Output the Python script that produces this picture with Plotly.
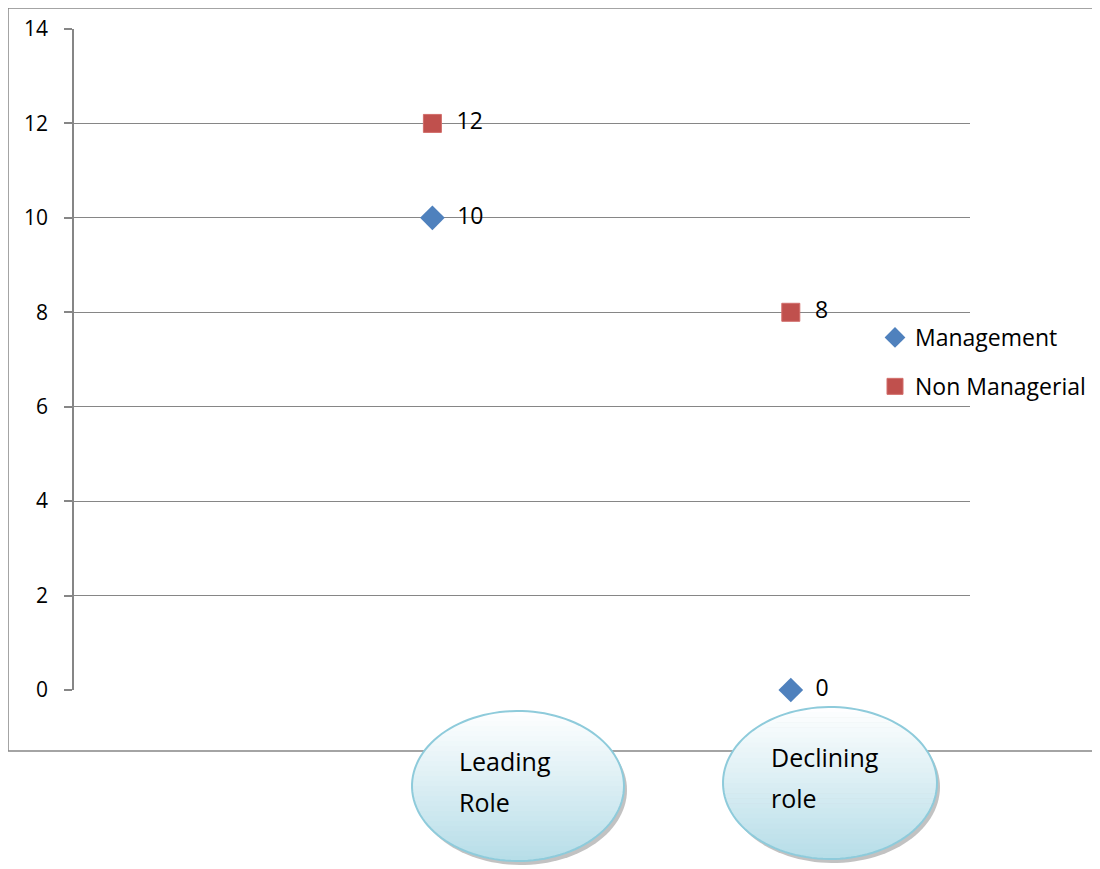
import numpy as np
import plotly.graph_objects as go

# ---- data ----
categories = ["Leading Role", "Declining role"]
x_pos = [1, 2]
management = [10, 0]
non_managerial = [12, 8]
y_ticks = [0, 2, 4, 6, 8, 10, 12, 14]

OFF = 8  # page body margin
W, H = 1100 - OFF, 869 - OFF
L, R, T, B = 74 - OFF, 130, 29 - OFF, 179
PW, PH = W - L - R, H - T - B

def px2paper(px, py):
    # px, py are page coordinates
    px -= OFF
    py -= OFF
    return (px - L) / PW, (H - B - py) / PH

FONT = "Open Sans"
GRID = "#868686"

fig = go.Figure()
fig.add_trace(go.Scatter(
    x=x_pos, y=management, mode="markers+text", name="Management",
    legendgroup="a",
    marker=dict(symbol="diamond", size=19, color="#4f81bd", line=dict(color="#4f81bd", width=0)),
    text=["  " + str(v) for v in management], textposition="middle right",
    textfont=dict(size=23, color="black", family=FONT), cliponaxis=False))
fig.add_trace(go.Scatter(
    x=x_pos, y=non_managerial, mode="markers+text", name="Non Managerial",
    legendgroup="b",
    marker=dict(symbol="square", size=18, color="#c0504d", line=dict(color="#d26d6a", width=1)),
    text=["  " + str(v) for v in non_managerial], textposition="middle right",
    textfont=dict(size=23, color="black", family=FONT), cliponaxis=False))

shapes = []
# outer chart border
x0, y0 = px2paper(8, 8)
x1, y1 = px2paper(1110, 751)
shapes.append(dict(type="rect", xref="paper", yref="paper", x0=x0, y0=y1, x1=x1, y1=y0,
                   line=dict(color="#868686", width=1.5), fillcolor="rgba(0,0,0,0)", layer="below"))

def ellipse_path(cx, cy, rx, ry, ya=None, yb=None, n=60):
    if ya is None:
        t = np.linspace(0, 2 * np.pi, n * 2)
        pts = [(cx + rx * np.cos(a), cy + ry * np.sin(a)) for a in t]
    else:
        ys = np.linspace(ya, yb, 8)
        right = [(cx + rx * np.sqrt(max(0, 1 - ((y - cy) / ry) ** 2)), y) for y in ys]
        left = [(cx - rx * np.sqrt(max(0, 1 - ((y - cy) / ry) ** 2)), y) for y in ys[::-1]]
        pts = right + left
    s = ""
    for i, (px, py) in enumerate(pts):
        ex, ey = px2paper(px, py)
        s += ("M" if i == 0 else "L") + f"{ex:.5f},{ey:.5f} "
    return s + "Z"

def lerp(c1, c2, f):
    return "rgb(%d,%d,%d)" % tuple(int(round(a + (b - a) * f)) for a, b in zip(c1, c2))

ellipses = [(518, 786, 106, 75), (830, 783, 107, 76)]
top_c, bot_c = (255, 255, 255), (182, 221, 232)
for (cx, cy, rx, ry) in ellipses:
    shapes.append(dict(type="path", xref="paper", yref="paper",
                       path=ellipse_path(cx + 3, cy + 4, rx, ry),
                       fillcolor="rgba(120,120,120,0.45)", line=dict(width=0), layer="above"))
    nb = 30
    edges = np.linspace(cy - ry, cy + ry, nb + 1)
    for i in range(nb):
        f = (i + 0.5) / nb
        shapes.append(dict(type="path", xref="paper", yref="paper",
                           path=ellipse_path(cx, cy, rx, ry, edges[i], edges[i + 1] + 0.6),
                           fillcolor=lerp(top_c, bot_c, f), line=dict(width=0), layer="above"))
    shapes.append(dict(type="path", xref="paper", yref="paper",
                       path=ellipse_path(cx, cy, rx, ry),
                       fillcolor="rgba(0,0,0,0)", line=dict(color="#8ecbdb", width=2), layer="above"))

annotations = []
label_lines = [("Leading", "Role", 457, 761, 802), ("Declining", "role", 769, 757, 798)]
for cat, (l1, l2, lx, ly1, ly2) in zip(categories, label_lines):
    for txt, ly in ((l1, ly1), (l2, ly2)):
        ax, ay = px2paper(lx, ly)
        annotations.append(dict(text=txt, xref="paper", yref="paper", x=ax, y=ay,
                                xanchor="left", yanchor="middle", showarrow=False,
                                font=dict(size=25, color="black", family=FONT)))

lx, ly = px2paper(875, 316)
fig.update_layout(
    width=W, height=H,
    margin=dict(l=L, r=R, t=T, b=B, pad=0, autoexpand=False),
    paper_bgcolor="white", plot_bgcolor="white",
    font=dict(family=FONT, size=21, color="black"),
    xaxis=dict(range=[0, 2.5], showgrid=False, zeroline=False, showticklabels=False,
               ticks="", showline=False, fixedrange=True, automargin=False),
    yaxis=dict(range=[0, 14], tickvals=y_ticks, showgrid=True, gridcolor=GRID, gridwidth=1,
               zeroline=False, showline=True, linecolor=GRID, linewidth=1.5,
               ticks="outside", ticklen=8, tickcolor=GRID, tickwidth=1.5, automargin=False,
               ticklabelstandoff=12, tickfont=dict(size=21, family=FONT, color="black")),
    showlegend=True,
    legend=dict(x=lx, y=ly, xanchor="left", yanchor="top", bgcolor="rgba(0,0,0,0)",
                font=dict(size=23, family=FONT, color="black"), itemwidth=30,
                tracegroupgap=16, traceorder="grouped"),
    shapes=shapes, annotations=annotations,
)

fig.write_html("out.html")
